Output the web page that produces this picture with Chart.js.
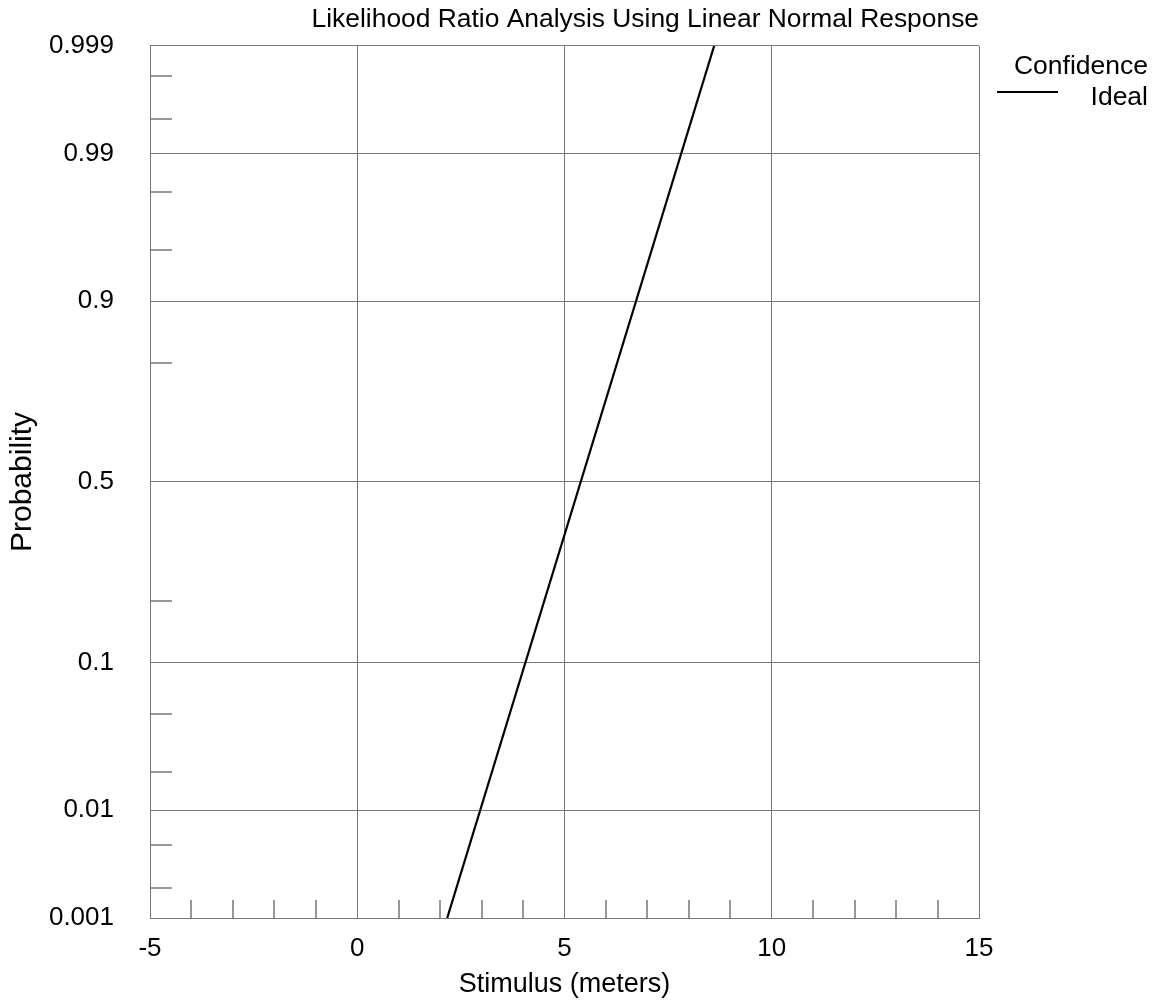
<!DOCTYPE html>
<html>
<head>
<meta charset="utf-8">
<title>Likelihood Ratio Analysis</title>
<script src="https://cdn.jsdelivr.net/npm/chart.js@4"></script>
<style>
  html, body { margin: 0; padding: 0; background: #fff; }
  #chart { display: block; }
</style>
</head>
<body>
<canvas id="chart" width="1155" height="1001"></canvas>
<script>
// axis values
const stimulusMin = -5;
const stimulusMax = 15;
const stimulusTicks = [-5, 0, 5, 10, 15];
const stimulusMinorTicks = [-4, -3, -2, -1, 1, 2, 3, 4, 6, 7, 8, 9, 11, 12, 13, 14];
const probabilityMin = 0.001;
const probabilityMax = 0.999;
const probabilityTicks = [0.001, 0.01, 0.1, 0.5, 0.9, 0.99, 0.999];
const probabilityMinorTicks = [0.002, 0.005, 0.02, 0.05, 0.2, 0.8, 0.95, 0.98, 0.995, 0.998];

// the "Ideal" response line (straight on normal probability paper)
const idealStimulus = [2.17, 8.61];
const idealProbability = [0.001, 0.999];

const FONT = "'Liberation Sans', Arial, sans-serif";
const GRID = "#777777";

// inverse normal cdf (Acklam)
const probit = (p) => {
  const a = [-39.69683028665376, 220.9460984245205, -275.9285104469687, 138.357751867269, -30.66479806614716, 2.506628277459239];
  const b = [-54.47609879822406, 161.5858368580409, -155.6989798598866, 66.80131188771972, -13.28068155288572];
  const c = [-0.007784894002430293, -0.3223964580411365, -2.400758277161838, -2.549732539343734, 4.374664141464968, 2.938163982698783];
  const d = [0.007784695709041462, 0.3224671290700398, 2.445134137142996, 3.754408661907416];
  const pl = 0.02425;
  let q, r;
  if (p < pl) {
    q = Math.sqrt(-2 * Math.log(p));
    return (((((c[0] * q + c[1]) * q + c[2]) * q + c[3]) * q + c[4]) * q + c[5]) /
      ((((d[0] * q + d[1]) * q + d[2]) * q + d[3]) * q + 1);
  }
  if (p > 1 - pl) {
    q = Math.sqrt(-2 * Math.log(1 - p));
    return -(((((c[0] * q + c[1]) * q + c[2]) * q + c[3]) * q + c[4]) * q + c[5]) /
      ((((d[0] * q + d[1]) * q + d[2]) * q + d[3]) * q + 1);
  }
  q = p - 0.5;
  r = q * q;
  return (((((a[0] * r + a[1]) * r + a[2]) * r + a[3]) * r + a[4]) * r + a[5]) * q /
    (((((b[0] * r + b[1]) * r + b[2]) * r + b[3]) * r + b[4]) * r + 1);
};

const normCdf = (z) => {
  const t = 1 / (1 + 0.2316419 * Math.abs(z));
  const poly = t * (0.319381530 + t * (-0.356563782 + t * (1.781477937 + t * (-1.821255978 + t * 1.330274429))));
  const v = 1 - Math.exp(-z * z / 2) / Math.sqrt(2 * Math.PI) * poly;
  return z >= 0 ? v : 1 - v;
};

// normal probability scale
class ProbitScale extends Chart.Scale {
  determineDataLimits() {
    this.min = this.options.min;
    this.max = this.options.max;
  }
  buildTicks() {
    return probabilityTicks.map((v) => ({ value: v }));
  }
  getLabelForValue(v) {
    return String(v);
  }
  configure() {
    super.configure();
    this._zStart = probit(this.min);
    this._zRange = probit(this.max) - this._zStart;
  }
  getPixelForValue(v) {
    return this.getPixelForDecimal((probit(v) - this._zStart) / this._zRange);
  }
  getValueForPixel(px) {
    return normCdf(this._zStart + this.getDecimalForPixel(px) * this._zRange);
  }
}
ProbitScale.id = "probit";
ProbitScale.defaults = {};
Chart.register(ProbitScale);

// short inner ticks + right-hand legend
const extrasPlugin = {
  id: "extras",
  afterDraw(chart) {
    const { ctx, chartArea, scales } = chart;
    ctx.save();
    ctx.strokeStyle = GRID;
    ctx.lineWidth = 1.5;
    ctx.beginPath();
    probabilityMinorTicks.forEach((v) => {
      const y = Math.round(scales.y.getPixelForValue(v));
      ctx.moveTo(chartArea.left, y);
      ctx.lineTo(chartArea.left + 22, y);
    });
    stimulusMinorTicks.forEach((v) => {
      const x = Math.round(scales.x.getPixelForValue(v));
      ctx.moveTo(x, chartArea.bottom);
      ctx.lineTo(x, chartArea.bottom - 18);
    });
    ctx.stroke();

    const ds = chart.data.datasets;
    ctx.fillStyle = "#000";
    ctx.font = "26.5px " + FONT;
    ctx.textAlign = "right";
    ctx.textBaseline = "alphabetic";
    ctx.fillText(ds[0].label, 1148, 74);
    ctx.fillText(ds[1].label, 1148, 105);
    ctx.strokeStyle = ds[1].borderColor;
    ctx.lineWidth = ds[1].borderWidth;
    ctx.beginPath();
    ctx.moveTo(997, 92);
    ctx.lineTo(1058, 92);
    ctx.stroke();
    ctx.restore();
  },
};

const ctx = document.querySelector("#chart").getContext("2d");

new Chart(ctx, {
  type: "line",
  data: {
    datasets: [
      {
        label: "Confidence",
        data: [],
        borderColor: "#ff0000",
        borderWidth: 1,
        pointRadius: 0,
      },
      {
        label: "Ideal",
        data: idealStimulus.map((x, i) => ({ x, y: idealProbability[i] })),
        borderColor: "#000000",
        borderWidth: 2.2,
        pointRadius: 0,
        fill: false,
        tension: 0,
      },
    ],
  },
  options: {
    responsive: false,
    animation: false,
    layout: { padding: { left: 0, right: 176, top: 0, bottom: 0 } },
    scales: {
      x: {
        type: "linear",
        min: stimulusMin,
        max: stimulusMax,
        afterBuildTicks: (scale) => {
          scale.ticks = stimulusTicks.map((v) => ({ value: v }));
        },
        afterFit: (scale) => {
          scale.height = 83;
          scale.paddingLeft = 0;
          scale.paddingRight = 0;
        },
        grid: { color: GRID, lineWidth: 1, drawTicks: false },
        border: { color: GRID, width: 1 },
        ticks: {
          color: "#000",
          padding: 15,
          maxRotation: 0,
          font: { family: FONT, size: 26 },
        },
        title: {
          display: true,
          text: "Stimulus (meters)",
          color: "#000",
          padding: { top: 0, bottom: 0 },
          font: { family: FONT, size: 27 },
        },
      },
      y: {
        type: "probit",
        min: probabilityMin,
        max: probabilityMax,
        afterFit: (scale) => {
          scale.width = 150;
          scale.paddingTop = 0;
          scale.paddingBottom = 0;
        },
        grid: { color: GRID, lineWidth: 1, drawTicks: false },
        border: { color: GRID, width: 1 },
        ticks: {
          color: "#000",
          padding: 36,
          callback: (v) => String(v),
          font: { family: FONT, size: 26 },
        },
        title: {
          display: true,
          text: "Probability",
          color: "#000",
          padding: { top: 5, bottom: 0 },
          font: { family: FONT, size: 30 },
        },
      },
    },
    plugins: {
      legend: { display: false },
      tooltip: { enabled: false },
      title: {
        display: true,
        text: "Likelihood Ratio Analysis Using Linear Normal Response",
        align: "end",
        color: "#000",
        padding: { top: 4, bottom: 10.3 },
        font: { family: FONT, size: 26.4, weight: "normal" },
      },
    },
  },
  plugins: [extrasPlugin],
});
</script>
</body>
</html>
